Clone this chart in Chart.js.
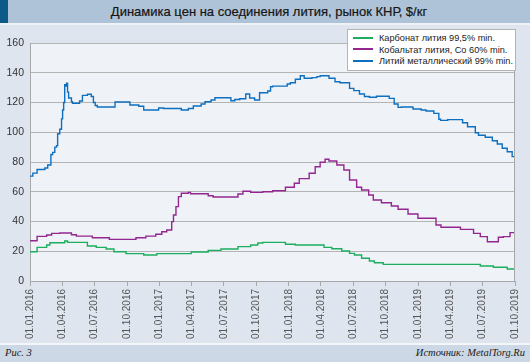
<!DOCTYPE html>
<html><head><meta charset="utf-8">
<script src="https://cdn.jsdelivr.net/npm/chart.js@4"></script>
<style>
html,body{margin:0;padding:0;}
body{width:530px;height:362px;position:relative;overflow:hidden;background:#dee5ee;font-family:"Liberation Sans",Arial,sans-serif;}
#titlebar{position:absolute;left:0;top:0;width:530px;height:23px;background:#afc3d8;}
#titlebar .blk{position:absolute;left:0;top:0;width:8px;height:23px;background:#0d5a88;}
#titlebar .txt{position:absolute;left:8px;right:0;top:0;height:23px;line-height:23px;text-align:center;font-size:13px;color:#151515;-webkit-text-stroke:0.2px #151515;}
#band{position:absolute;left:0;top:23px;width:530px;height:2px;background:#eef2f6;}
#footband{position:absolute;left:0;top:343px;width:530px;height:2px;background:#f4f6f9;}
#footer{position:absolute;left:0;top:345px;width:530px;height:17px;background:#ccd8e5;font-family:"Liberation Serif","Times New Roman",serif;font-style:italic;font-size:10.5px;color:#222;}
#footer .l{position:absolute;left:5px;top:2px;}
#footer .r{position:absolute;right:5px;top:2px;}
#c{position:absolute;left:0;top:0;}
#legend{position:absolute;left:347px;top:29px;width:167px;height:40px;background:#fff;border:1px solid #b4b4b4;z-index:5;font-size:9.2px;color:#222;}
#legend .it{position:absolute;left:5px;height:11px;line-height:11px;white-space:nowrap;}
#legend .ln{display:inline-block;width:20px;height:2px;vertical-align:middle;margin-right:6px;position:relative;top:-1px;}
</style></head>
<body>
<div id="titlebar"><div class="blk"></div><div class="txt">Динамика цен на соединения лития, рынок КНР, $/кг</div></div>
<div id="band"></div>
<canvas id="c" width="530" height="362"></canvas>
<div id="legend"></div>
<div id="footband"></div>
<div id="footer"><span class="l">Рис. 3</span><span class="r">Источник: MetalTorg.Ru</span></div>
<script>
const tickLabels = ['01.01.2016','01.04.2016','01.07.2016','01.10.2016','01.01.2017','01.04.2017','01.07.2017','01.10.2017','01.01.2018','01.04.2018','01.07.2018','01.10.2018','01.01.2019','01.04.2019','01.07.2019','01.10.2019'];
const yTicks = [0,20,40,60,80,100,120,140,160];
const seriesNames = ['Карбонат лития 99,5% min.','Кобальтат лития, Co 60% min.','Литий металлический 99% min.'];
const seriesColors = ['#1cae5e','#93278f','#0f6fbf'];

const carbonateDates = ['2016-01-01','2016-01-21','2016-02-17','2016-02-26','2016-04-08','2016-04-16','2016-06-11','2016-07-06','2016-08-03','2016-08-25','2016-09-28','2016-11-17','2016-12-24','2017-03-31','2017-05-18','2017-06-23','2017-08-10','2017-09-15','2017-10-05','2017-10-19','2017-12-22','2018-01-19','2018-04-10','2018-05-02','2018-05-30','2018-06-21','2018-07-05','2018-07-25','2018-08-16','2018-08-30','2018-09-24','2019-06-25','2019-08-01','2019-09-09','2019-10-01'];
const carbonateValues = [19.7,22.6,24.2,25.7,26.9,26.0,23.5,22.6,21.5,19.7,18.4,17.5,18.4,19.5,20.6,21.5,23.1,24.2,25.5,26.0,24.7,24.2,22.6,21.7,20.2,18.6,17.5,15.3,13.4,12.3,11.2,10.1,9.2,8.1,8.1];

const cobaltDates = ['2016-01-01','2016-01-21','2016-02-17','2016-03-02','2016-03-25','2016-04-27','2016-05-11','2016-06-25','2016-08-12','2016-10-26','2016-11-23','2016-12-21','2017-01-07','2017-01-21','2017-02-04','2017-02-09','2017-02-16','2017-02-23','2017-03-03','2017-03-23','2017-03-29','2017-05-18','2017-06-01','2017-08-10','2017-08-24','2017-09-15','2017-10-19','2017-11-16','2017-12-22','2018-01-16','2018-01-30','2018-02-27','2018-03-16','2018-03-30','2018-04-13','2018-04-24','2018-05-16','2018-06-05','2018-06-21','2018-07-11','2018-07-25','2018-08-14','2018-08-27','2018-09-19','2018-10-17','2018-11-05','2018-12-03','2018-12-31','2019-02-20','2019-03-06','2019-04-30','2019-06-06','2019-06-25','2019-07-15','2019-08-15','2019-08-29','2019-09-17','2019-10-01'];
const cobaltValues = [27.1,30.0,30.9,32.0,32.3,31.1,30.2,29.1,28.0,29.1,30.2,31.4,33.1,34.3,39.9,44.4,50.0,56.7,59.0,59.6,58.7,57.3,56.5,58.5,60.3,59.6,60.0,60.7,63.0,65.7,68.8,72.4,76.8,79.8,81.8,80.7,78.0,74.6,67.9,63.0,61.2,57.8,54.5,52.6,50.4,48.2,45.0,42.2,37.6,36.1,34.7,32.0,29.8,26.4,29.4,29.8,32.5,32.5];

const metalDates = ['2016-01-01','2016-01-09','2016-01-21','2016-02-12','2016-02-20','2016-02-29','2016-03-05','2016-03-11','2016-03-16','2016-03-19','2016-03-25','2016-03-30','2016-04-02','2016-04-05','2016-04-08','2016-04-12','2016-04-13','2016-04-16','2016-04-19','2016-04-27','2016-04-30','2016-05-20','2016-05-28','2016-06-11','2016-06-22','2016-06-28','2016-07-03','2016-07-09','2016-08-28','2016-10-09','2016-11-03','2016-11-17','2016-12-29','2017-01-12','2017-03-03','2017-03-23','2017-04-06','2017-04-28','2017-05-09','2017-05-26','2017-06-06','2017-07-21','2017-08-01','2017-08-15','2017-09-01','2017-09-12','2017-09-26','2017-10-10','2017-11-02','2017-11-10','2017-11-16','2017-12-27','2018-01-05','2018-01-19','2018-02-02','2018-02-13','2018-03-07','2018-03-21','2018-03-30','2018-04-24','2018-05-11','2018-05-25','2018-06-21','2018-07-03','2018-07-19','2018-08-02','2018-08-16','2018-09-05','2018-10-11','2018-10-25','2018-11-05','2018-11-14','2018-12-17','2019-01-09','2019-01-23','2019-02-14','2019-02-28','2019-03-05','2019-03-25','2019-05-06','2019-05-20','2019-06-11','2019-06-20','2019-07-09','2019-07-29','2019-08-12','2019-08-26','2019-09-09','2019-09-23','2019-10-01'];
const metalValues = [70.5,72.5,75.0,76.0,78.0,85.0,86.5,90.0,91.0,99.0,102.0,109.0,115.0,120.0,132.0,131.0,133.0,127.0,123.0,120.5,119.5,121.0,124.8,125.5,124.0,120.0,118.0,117.0,120.3,118.3,117.5,115.0,116.3,116.0,115.0,116.0,117.6,119.0,120.5,121.7,123.2,121.2,122.0,122.5,125.7,123.0,121.7,126.6,127.7,130.6,131.0,132.4,133.3,135.6,138.0,136.3,136.7,137.4,138.0,136.3,134.0,133.3,129.5,128.0,125.7,124.0,123.5,124.2,122.8,119.0,116.7,117.0,115.6,115.0,114.3,112.7,108.7,108.0,108.5,106.4,103.7,99.7,98.0,96.6,94.3,92.1,89.2,86.9,83.6,83.0];

const T0 = Date.UTC(2016,0,1);
function isoDay(s){const p=s.split('-').map(Number);return (Date.UTC(p[0],p[1]-1,p[2])-T0)/86400000;}
function dmyDay(s){const p=s.split('.').map(Number);return (Date.UTC(p[2],p[1]-1,p[0])-T0)/86400000;}
const tickDays = tickLabels.map(dmyDay);
function pts(d,v){return d.map((x,i)=>({x:isoDay(x),y:v[i]}));}

const lg=document.getElementById('legend');
seriesNames.forEach((n,i)=>{const d=document.createElement('div');d.className='it';d.style.top=(3+i*11.5)+'px';d.innerHTML='<span class="ln" style="background:'+seriesColors[i]+'"></span>'+n;lg.appendChild(d);});

const plotBg={id:'plotBg',beforeDraw(ch){const a=ch.chartArea,c=ch.ctx;c.save();c.fillStyle='#eff3f8';c.fillRect(a.left,a.top,a.right-a.left,a.bottom-a.top);c.restore();},
afterDatasetsDraw(ch){const a=ch.chartArea,c=ch.ctx;c.save();c.strokeStyle='#a8a8a8';c.lineWidth=1;c.beginPath();c.moveTo(Math.round(a.right)-0.5,a.top);c.lineTo(Math.round(a.right)-0.5,a.bottom);c.stroke();c.restore();}};

const mk=(i,d,v)=>({label:seriesNames[i],data:pts(d,v),borderColor:seriesColors[i],borderWidth:1.4,pointRadius:0,stepped:true,fill:false,tension:0});

new Chart(document.getElementById('c'),{
  type:'line',
  data:{datasets:[mk(2,metalDates,metalValues),mk(1,cobaltDates,cobaltValues),mk(0,carbonateDates,carbonateValues)]},
  plugins:[plotBg],
  options:{
    responsive:false,animation:false,
    layout:{padding:{top:43,right:10,left:0,bottom:0}},
    plugins:{legend:{display:false},tooltip:{enabled:false}},
    scales:{
      x:{type:'linear',min:tickDays[0],max:tickDays[tickDays.length-1],
        afterBuildTicks(s){s.ticks=tickDays.map(v=>({value:v}));},
        afterFit(s){s.height=81;},
        ticks:{autoSkip:false,maxRotation:90,minRotation:90,padding:3,color:'#555',font:{size:10,family:'"Liberation Sans", Arial, sans-serif'},
          callback(v){const i=tickDays.indexOf(v);return i>=0?tickLabels[i]:'';}},
        grid:{drawOnChartArea:false,drawTicks:true,tickLength:5,color:'#a8a8a8'},
        border:{display:true,color:'#a8a8a8'}},
      y:{min:0,max:160,
        afterBuildTicks(s){s.ticks=yTicks.map(v=>({value:v}));},
        afterFit(s){s.width=30;},
        ticks:{padding:6,color:'#333',font:{size:10.5,family:'"Liberation Sans", Arial, sans-serif'}},
        grid:{color:'#b4b4b4',drawTicks:false,lineWidth:1},
        border:{display:true,color:'#a8a8a8'}}
    }
  }
});
</script>
</body></html>
